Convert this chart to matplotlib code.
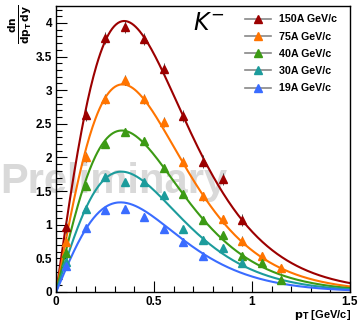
import matplotlib.pyplot as plt
import numpy as np
from matplotlib.lines import Line2D
from matplotlib.ticker import MultipleLocator

plt.rcParams['font.family'] = ['Liberation Sans', 'DejaVu Sans']

KAON_MASS = 0.4937

labels = ['150A GeV/c', '75A GeV/c', '40A GeV/c', '30A GeV/c', '19A GeV/c']
colors = ['#9c0000', '#ff7400', '#3c9a14', '#1c9c9c', '#3a6cff']

pt_150 = [0.05, 0.15, 0.25, 0.35, 0.45, 0.55, 0.65, 0.75, 0.85, 0.95]
y_150 = [0.97, 2.63, 3.77, 3.94, 3.76, 3.32, 2.62, 1.94, 1.68, 1.07]

pt_75 = [0.05, 0.15, 0.25, 0.35, 0.45, 0.55, 0.65, 0.75, 0.85, 0.95, 1.05, 1.15]
y_75 = [0.75, 2.01, 2.87, 3.15, 2.87, 2.53, 1.94, 1.42, 1.08, 0.76, 0.53, 0.35]

pt_40 = [0.05, 0.15, 0.25, 0.35, 0.45, 0.55, 0.65, 0.75, 0.85, 0.95, 1.05, 1.15]
y_40 = [0.58, 1.58, 2.20, 2.38, 2.24, 1.85, 1.46, 1.07, 0.85, 0.54, 0.43, 0.18]

pt_30 = [0.05, 0.15, 0.25, 0.35, 0.45, 0.55, 0.65, 0.75, 0.85, 0.95]
y_30 = [0.45, 1.24, 1.71, 1.63, 1.63, 1.44, 0.93, 0.78, 0.66, 0.43]

pt_19 = [0.05, 0.15, 0.25, 0.35, 0.45, 0.55, 0.65, 0.75]
y_19 = [0.38, 0.95, 1.22, 1.23, 1.12, 0.93, 0.75, 0.53]

errors = [0.09, 0.07, 0.06, 0.05, 0.05]

# fit parameters: A * pT * exp(-(mT - m) / T)
fit_A = [20.1, 15.75, 12.39, 9.29, 7.0]
fit_T = [0.200, 0.192, 0.188, 0.186, 0.182]


def fit_func(pt, A, T):
    mt = np.sqrt(pt ** 2 + KAON_MASS ** 2)
    return A * pt * np.exp(-(mt - KAON_MASS) / T)


fig = plt.figure(figsize=(3.6, 3.23), dpi=100)
ax = fig.add_axes([0.156, 0.096, 0.816, 0.885])
ax.patch.set_alpha(0)

# watermark behind the axes
fig.text(0.0, 0.402, 'Preliminary', fontsize=30, fontweight='bold',
         color='#d9d9d9', ha='left', va='baseline', zorder=-1)

pts = [pt_150, pt_75, pt_40, pt_30, pt_19]
ys = [y_150, y_75, y_40, y_30, y_19]
xx = np.linspace(0, 1.5, 300)
for i in range(len(labels)):
    ax.plot(xx, fit_func(xx, fit_A[i], fit_T[i]), color=colors[i], lw=1.5, zorder=2)
    ax.errorbar(pts[i], ys[i], yerr=errors[i], fmt='^', color=colors[i],
                ecolor='#333333', elinewidth=0.6, capsize=0, ms=5.5,
                mec=colors[i], zorder=3)

ax.set_xlim(0, 1.5)
ax.set_ylim(0, 4.25)
ax.xaxis.set_minor_locator(MultipleLocator(0.1))
ax.yaxis.set_minor_locator(MultipleLocator(0.1))
ax.set_xticks([0, 0.5, 1, 1.5])
ax.set_xticklabels(['0', '0.5', '1', '1.5'])
ax.set_yticks([0, 0.5, 1, 1.5, 2, 2.5, 3, 3.5, 4])
ax.set_yticklabels(['0', '0.5', '1', '1.5', '2', '2.5', '3', '3.5', '4'])
ax.tick_params(which='major', direction='in', length=8, width=0.8,
               labelsize=8.5, pad=3)
ax.tick_params(which='minor', direction='in', length=4, width=0.8)
for lab in ax.get_xticklabels() + ax.get_yticklabels():
    lab.set_fontweight('bold')
for sp in ax.spines.values():
    sp.set_linewidth(1.0)

ax.text(0.52, 0.94, r'$K^{-}$', transform=ax.transAxes, fontsize=17,
        ha='center', va='center', family='DejaVu Sans', style='italic')

handles = [Line2D([0], [0], color='#888888', lw=1.2, marker='^', ms=6,
                  mfc=c, mec=c) for c in colors]
ax.legend(handles, labels, loc='upper right', bbox_to_anchor=(0.99, 1.005),
          frameon=False, prop={'weight': 'bold', 'size': 7.7},
          handlelength=2.4, labelspacing=0.68, handletextpad=0.8)

fig.text(0.975, 0.004, r'$\mathbf{p_{T}}$ [GeV/c]', ha='right', va='bottom',
         fontsize=8, fontweight='bold')
fig.text(0.018, 0.985, r'$\mathbf{\frac{dn}{dp_{T}\,dy}}$', rotation=90,
         ha='left', va='top', fontsize=11)

fig.savefig('out.png', dpi=100)
